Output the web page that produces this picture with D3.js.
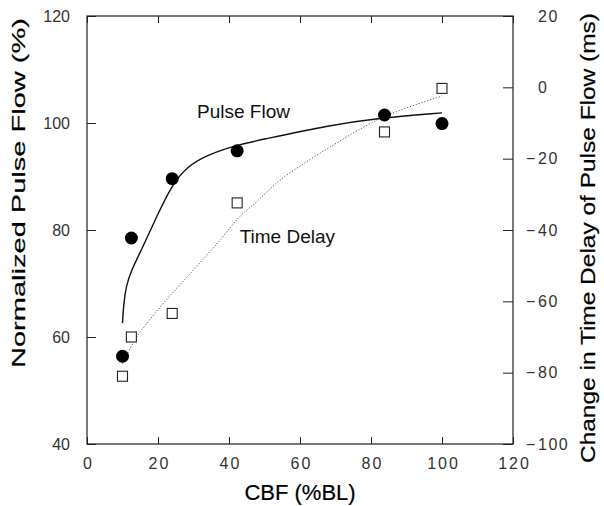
<!DOCTYPE html>
<html>
<head>
<meta charset="utf-8">
<script src="https://cdn.jsdelivr.net/npm/d3@7"></script>
<style>
  body { margin: 0; background: #fff; }
  svg { display: block; font-family: "Liberation Sans", Arial, sans-serif; }
  .tick text { fill: #333; font-size: 16px; }
</style>
</head>
<body>
<svg id="chart" width="604" height="506"></svg>
<script>
// measured points
const cbf = [10, 12.5, 24, 42.3, 83.8, 100];
const pulseFlow = [56.4, 78.5, 89.6, 94.8, 101.5, 99.9];
const timeDelay = [-81, -70, -63.4, -32.4, -12.5, -0.3];

// fitted curves
const pulseFitX = [10, 10.3, 11, 12.5, 15.5, 19.6, 23.9, 28.1, 33.7, 42.2, 48.7, 68.5, 81.6, 100];
const pulseFitY = [62.6, 66, 69.5, 72.5, 76.5, 82.5, 88.4, 91.8, 94, 95.9, 96.8, 99.6, 100.9, 101.9];
const delayFitX = [10, 14, 21.5, 30, 37.5, 43, 48.3, 54.4, 68.5, 81.6, 87.2, 100];
const delayFitY = [-77.5, -70, -60.6, -51.2, -42.8, -36.3, -31.6, -26, -16.7, -9.2, -6.8, -2.4];

const xTicks = [0, 20, 40, 60, 80, 100, 120];
const leftTicks = [40, 60, 80, 100, 120];
const rightTicks = [20, 0, -20, -40, -60, -80, -100];

const svg = d3.select("#chart");
const mLeft = 87, mRight = 513, mTop = 16, mBottom = 444;

const x = d3.scaleLinear([0, 120], [mLeft, mRight]);
const yL = d3.scaleLinear([40, 120], [mBottom, mTop]);
const yR = d3.scaleLinear([-100, 20], [mBottom, mTop]);

// frame
svg.append("rect")
    .attr("x", mLeft).attr("y", mTop)
    .attr("width", mRight - mLeft).attr("height", mBottom - mTop)
    .attr("fill", "none").attr("stroke", "#222").attr("stroke-width", 1.2);

const xAxis = svg.append("g")
    .attr("transform", `translate(0,${mBottom})`)
    .call(d3.axisBottom(x).tickValues(xTicks).tickSizeInner(-7).tickSizeOuter(0).tickPadding(14));
xAxis.selectAll(".tick text").attr("letter-spacing", 2).attr("dx", 1);

svg.append("g")
    .attr("transform", `translate(0,${mTop})`)
    .call(d3.axisTop(x).tickValues(xTicks).tickSizeInner(-7).tickSizeOuter(0).tickFormat(""));

svg.append("g")
    .attr("transform", `translate(${mLeft},0)`)
    .call(d3.axisLeft(yL).tickValues(leftTicks).tickSizeInner(-9).tickSizeOuter(0).tickPadding(17));

const rAxis = svg.append("g")
    .attr("transform", `translate(${mRight},0)`)
    .call(d3.axisRight(yR).tickValues(rightTicks).tickSizeInner(-10).tickSizeOuter(0).tickPadding(25));

// right labels: number left aligned, minus sign hung in front
rAxis.selectAll(".tick text").each(function(d) {
    const t = d3.select(this);
    t.text(Math.abs(d)).attr("text-anchor", "start").attr("letter-spacing", 1.5);
    if (d < 0) {
        d3.select(this.parentNode).append("text")
            .attr("x", 13).attr("dy", "0.32em")
            .attr("fill", "#333").attr("font-size", 16)
            .text("\u2212");
    }
});

svg.selectAll(".domain").remove();
svg.selectAll(".tick line").attr("stroke", "#222").attr("stroke-width", 1);

// fitted curves
const line = d3.line().curve(d3.curveCatmullRom);

svg.append("path")
    .attr("d", line(delayFitX.map((v, i) => [x(v), yR(delayFitY[i])])))
    .attr("fill", "none").attr("stroke", "#555").attr("stroke-width", 1)
    .attr("stroke-dasharray", "1.2,1.8");

svg.append("path")
    .attr("d", d3.line().curve(d3.curveBasis)(pulseFitX.map((v, i) => [x(v), yL(pulseFitY[i])])))
    .attr("fill", "none").attr("stroke", "#111").attr("stroke-width", 1.4);

// markers
svg.append("g").selectAll("rect")
    .data(cbf)
    .join("rect")
    .attr("x", (d) => x(d) - 5)
    .attr("y", (d, i) => yR(timeDelay[i]) - 5)
    .attr("width", 10).attr("height", 10)
    .attr("fill", "#fff").attr("stroke", "#222").attr("stroke-width", 1.1);

svg.append("g").selectAll("circle")
    .data(cbf)
    .join("circle")
    .attr("cx", (d) => x(d))
    .attr("cy", (d, i) => yL(pulseFlow[i]))
    .attr("r", 6.5)
    .attr("fill", "#000");

// series labels
svg.append("text").attr("x", x(31)).attr("y", yL(101))
    .attr("font-size", 19).attr("fill", "#111").text("Pulse Flow");
svg.append("text").attr("x", x(43)).attr("y", yL(77.5))
    .attr("font-size", 19).attr("fill", "#111").text("Time Delay");

// axis titles
const title = (sel) => sel
    .attr("text-anchor", "middle").attr("fill", "#000")
    .attr("stroke", "#000").attr("stroke-width", 0.2);

svg.append("text")
    .attr("x", (mLeft + mRight) / 2).attr("y", 500)
    .attr("font-size", 22)
    .text("CBF (%BL)")
    .call(title);

svg.append("text")
    .attr("transform", "translate(25,193) rotate(-90)")
    .attr("font-size", 19)
    .attr("textLength", 350).attr("lengthAdjust", "spacingAndGlyphs")
    .text("Normalized Pulse Flow (%)")
    .call(title);

svg.append("text")
    .attr("transform", "translate(595,238) rotate(-90)")
    .attr("font-size", 20)
    .attr("textLength", 450).attr("lengthAdjust", "spacingAndGlyphs")
    .text("Change in Time Delay of Pulse Flow (ms)")
    .call(title);
</script>
</body>
</html>
